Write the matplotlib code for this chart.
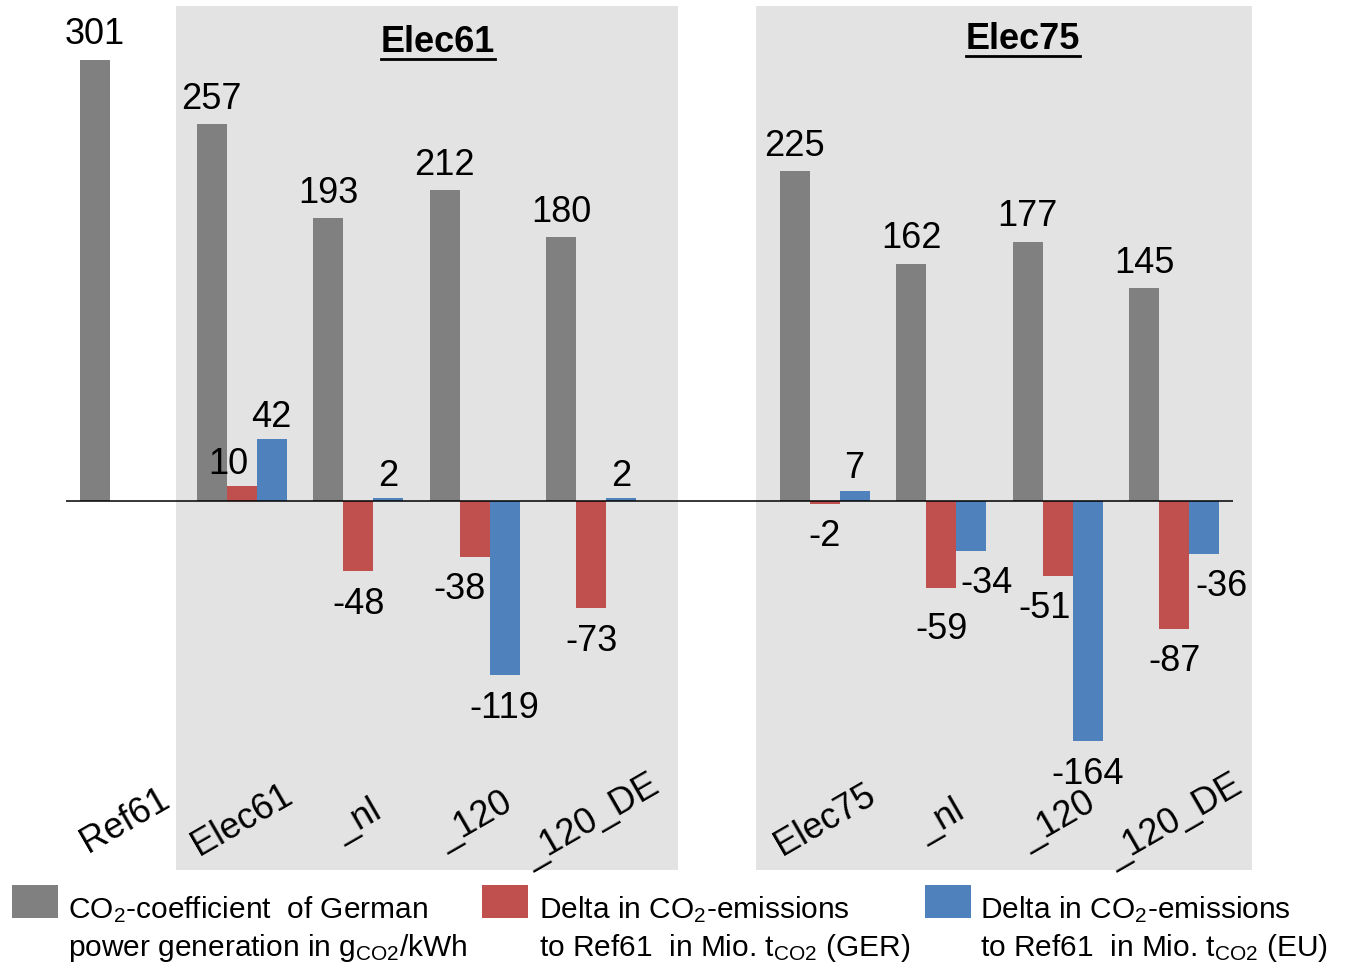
import matplotlib
matplotlib.use("Agg")
import matplotlib.pyplot as plt
from matplotlib.patches import Rectangle
from matplotlib.lines import Line2D

# data
categories = ["Ref61", "Elec61", "_nl", "_120", "_120_DE",
              "Elec75", "_nl", "_120", "_120_DE"]
slots = [0, 1, 2, 3, 4, 6, 7, 8, 9]          # slot 5 is an empty gap
co2_coeff = [301, 257, 193, 212, 180, 225, 162, 177, 145]
delta_ger = [None, 10, -48, -38, -73, -2, -59, -51, -87]
delta_eu = [None, 42, 2, -119, 2, 7, -34, -164, -36]
groups = ["Elec61", "Elec75"]

legend_labels = [
    ("CO$_2$-coefficient  of German", r"power generation in g$_{\mathrm{CO2}}$/kWh"),
    ("Delta in CO$_2$-emissions", r"to Ref61  in Mio. t$_{\mathrm{CO2}}$ (GER)"),
    ("Delta in CO$_2$-emissions", r"to Ref61  in Mio. t$_{\mathrm{CO2}}$ (EU)"),
]

GREY = "#808080"
RED = "#C0504D"
BLUE = "#4F81BD"
BOX = "#E3E3E3"

FONT = "Liberation Sans"
plt.rcParams["font.family"] = [FONT, "DejaVu Sans"]
plt.rcParams["mathtext.fontset"] = "custom"
plt.rcParams["mathtext.rm"] = FONT
plt.rcParams["mathtext.bf"] = FONT + ":bold"
plt.rcParams["mathtext.it"] = FONT + ":italic"

W, H = 1346, 966
fig = plt.figure(figsize=(W / 100, H / 100), dpi=100)
ax = fig.add_axes([0, 96 / H, 1, 864 / H])
ax.set_xlim(-1.072, 10.472)
ax.set_ylim(-251.7, 337.7)
ax.axis("off")

# shaded group boxes
ax.axvspan(0.437, 4.743, color=BOX, zorder=0, lw=0)
ax.axvspan(5.41, 9.666, color=BOX, zorder=0, lw=0)
titles = [ax.text(2.684, 313, groups[0], ha="center", va="center", fontsize=26, fontweight="bold"),
          ax.text(7.70, 315, groups[1], ha="center", va="center", fontsize=26, fontweight="bold")]

bw = 0.257
ax.hlines(0, -0.506, 9.503, color="black", lw=1.1, zorder=3)

# per-label nudges in pixels (dx, dy), keyed by list index
nudge_red = {1: (-13, 0), 3: (-15, 0), 6: (0, 9), 7: (-13, 0)}
nudge_blue = {6: (15, 0), 8: (17, 0)}

FS = 26
for i, (x, lab) in enumerate(zip(slots, categories)):
    g = co2_coeff[i]
    ax.bar(x - bw, g, width=bw, color=GREY, zorder=2)
    ax.annotate(str(g), (x - bw, g), xytext=(0, 25), textcoords="offset pixels",
                ha="center", va="center", fontsize=FS)
    for vals, off, col, nd in ((delta_ger, 0, RED, nudge_red), (delta_eu, bw, BLUE, nudge_blue)):
        v = vals[i]
        if v is None:
            continue
        ax.bar(x + off, v, width=bw, color=col, zorder=2)
        dx, dy = nd.get(i, (0, 0))
        dy0 = 22 if v > 0 else -33
        ax.annotate(str(v), (x + off, v), xytext=(dx, dy0 - dy), textcoords="offset pixels",
                    ha="center", va="center", fontsize=FS)
    ax.text(x, -218, lab, rotation=30, ha="center", va="center", fontsize=FS)

# legend drawn by hand below the plot
cols = [GREY, RED, BLUE]
patch_x = [12, 482, 925]
text_x = [68, 539, 980]
for (l1, l2), c, px, tx in zip(legend_labels, cols, patch_x, text_x):
    fig.add_artist(Rectangle((px / W, 1 - 918 / H), 46 / W, 33 / H,
                             transform=fig.transFigure, color=c, lw=0))
    fig.text(tx / W, 1 - 918 / H, l1, fontsize=21.5, va="baseline", ha="left")
    fig.text(tx / W, 1 - 956 / H, l2, fontsize=21.5, va="baseline", ha="left")

# underline the group titles
fig.canvas.draw()
r = fig.canvas.get_renderer()
for t in titles:
    bb = t.get_window_extent(r)
    fig.add_artist(Line2D([bb.x0 / W, bb.x1 / W], [(bb.y0 + 1) / H] * 2,
                          transform=fig.transFigure, color="black", lw=2))

fig.savefig("out.png", dpi=100)
